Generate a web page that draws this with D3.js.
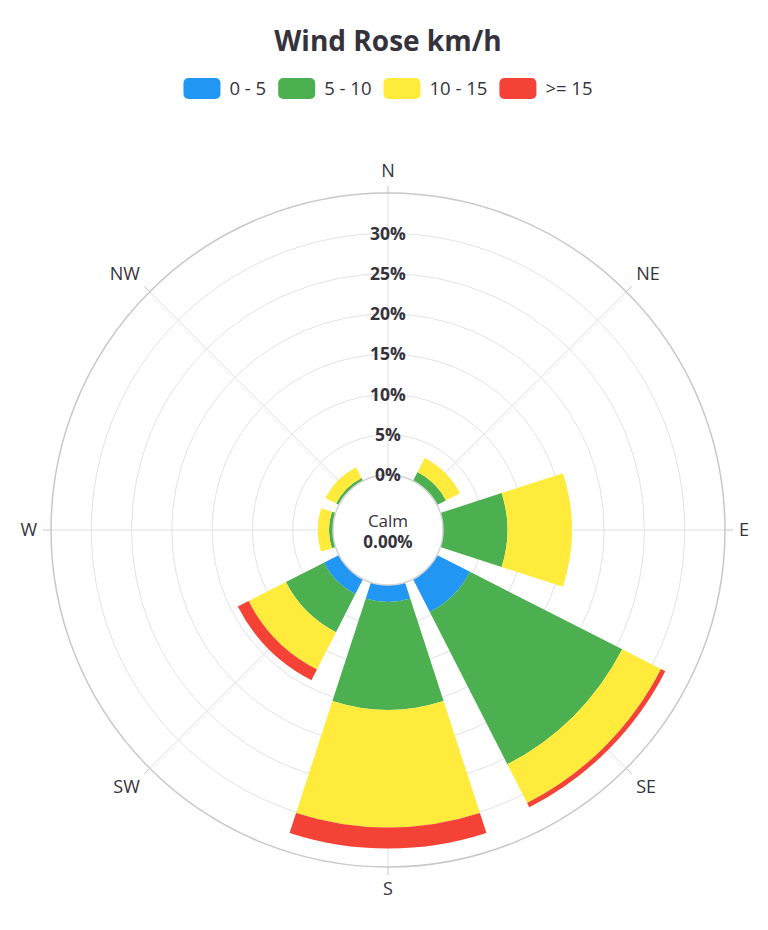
<!DOCTYPE html>
<html>
<head>
<meta charset="utf-8">
<script src="https://cdn.jsdelivr.net/npm/d3@7"></script>
<style>
  html, body { margin: 0; padding: 0; background: #fff; }
  svg { display: block; font-family: "Open Sans", "Noto Sans", sans-serif; }
</style>
</head>
<body>
<svg id="chart" width="768" height="930"></svg>
<script>
// directions around the rose
var directions = ["N", "NE", "E", "SE", "S", "SW", "W", "NW"];

// percent of time per speed band
var speed0to5   = [0, 0,    0,   4.6,  2.1,  2.1, 0,   0];
var speed5to10  = [0, 1.25, 8.0, 21.2, 13.4, 5.3, 0.5, 0.4];
var speed10to15 = [0, 1.95, 8.0, 5.4,  14.6, 5.2, 1.4, 1.5];
var speed15plus = [0, 0,    0,   0.6,  2.6,  1.5, 0,   0];

var seriesNames = ["0 - 5", "5 - 10", "10 - 15", ">= 15"];
var seriesColors = ["#2196F3", "#4CAF50", "#FFEB3B", "#F44336"];
var radialTicks = [0, 5, 10, 15, 20, 25, 30];
var calmValue = "0.00%";

var svg = d3.select("#chart");
var cx = 388, cy = 530;
var innerR = 55, outerR = 337;
var textColor = "#35323c";

// build rows for d3.stack
var rows = directions.map(function(d, i) {
    return { dir: d, s0: speed0to5[i], s1: speed5to10[i], s2: speed10to15[i], s3: speed15plus[i] };
});
var keys = ["s0", "s1", "s2", "s3"];
var stacked = d3.stack().keys(keys)(rows);

var angle = d3.scaleBand()
    .domain(directions)
    .range([-Math.PI / 8, 2 * Math.PI - Math.PI / 8])
    .paddingInner(0.2)
    .paddingOuter(0.1);

var r = d3.scaleLinear()
    .domain([0, 35])
    .range([innerR, outerR]);

function mid(d) { return angle(d) + angle.bandwidth() / 2; }

var g = svg.append("g").attr("transform", "translate(" + cx + "," + cy + ")");

// grid circles
g.append("g")
    .selectAll("circle")
    .data(radialTicks.slice(1))
    .join("circle")
    .attr("r", function(d) { return r(d); })
    .attr("fill", "none")
    .attr("stroke", "#e3e3e3")
    .attr("stroke-width", 1);

// split lines for each direction
g.append("g")
    .selectAll("line")
    .data(directions)
    .join("line")
    .attr("x1", function(d) { return Math.sin(mid(d)) * innerR; })
    .attr("y1", function(d) { return -Math.cos(mid(d)) * innerR; })
    .attr("x2", function(d) { return Math.sin(mid(d)) * outerR; })
    .attr("y2", function(d) { return -Math.cos(mid(d)) * outerR; })
    .attr("stroke", "#e0e0e0");

// outer circle
g.append("circle")
    .attr("r", outerR)
    .attr("fill", "none")
    .attr("stroke", "#c8c8c8")
    .attr("stroke-width", 1.5);

// ticks outside outer circle
g.append("g")
    .selectAll("line")
    .data(directions)
    .join("line")
    .attr("x1", function(d) { return Math.sin(mid(d)) * outerR; })
    .attr("y1", function(d) { return -Math.cos(mid(d)) * outerR; })
    .attr("x2", function(d) { return Math.sin(mid(d)) * (outerR + 8); })
    .attr("y2", function(d) { return -Math.cos(mid(d)) * (outerR + 8); })
    .attr("stroke", "#c8c8c8");

// stacked bars
var arc = d3.arc()
    .innerRadius(function(d) { return r(d[0]); })
    .outerRadius(function(d) { return r(d[1]); })
    .startAngle(function(d) { return angle(d.data.dir); })
    .endAngle(function(d) { return angle(d.data.dir) + angle.bandwidth(); });

g.append("g")
    .selectAll("g")
    .data(stacked)
    .join("g")
    .attr("fill", function(d, i) { return seriesColors[i]; })
    .selectAll("path")
    .data(function(d) { return d.filter(function(p) { return p[1] > p[0]; }); })
    .join("path")
    .attr("d", arc);

// calm circle in the middle
g.append("circle")
    .attr("r", innerR)
    .attr("fill", "#fff")
    .attr("stroke", "#d4d4d4")
    .attr("stroke-width", 1.5);

g.append("text")
    .attr("y", -3)
    .attr("text-anchor", "middle")
    .style("font-size", "17px")
    .attr("fill", textColor)
    .text("Calm");

g.append("text")
    .attr("y", 18)
    .attr("text-anchor", "middle")
    .style("font-size", "17px")
    .style("font-weight", "bold")
    .attr("fill", textColor)
    .text(calmValue);

// radial tick labels
g.append("g")
    .selectAll("text")
    .data(radialTicks)
    .join("text")
    .attr("x", 0)
    .attr("y", function(d) { return -r(d); })
    .attr("dy", "0.36em")
    .attr("text-anchor", "middle")
    .style("font-size", "17.5px")
    .style("font-weight", "bold")
    .attr("fill", textColor)
    .text(function(d) { return d + "%"; });

// direction labels
var labelR = 351;
g.append("g")
    .selectAll("text")
    .data(directions)
    .join("text")
    .attr("x", function(d) { return Math.sin(mid(d)) * labelR; })
    .attr("y", function(d) { return -Math.cos(mid(d)) * labelR; })
    .attr("text-anchor", function(d) {
        var s = Math.sin(mid(d));
        return Math.abs(s) < 0.01 ? "middle" : (s > 0 ? "start" : "end");
    })
    .attr("dy", function(d) {
        var c = Math.cos(mid(d));
        return Math.abs(c) < 0.01 ? "0.35em" : (c > 0 ? "-0.1em" : "0.8em");
    })
    .style("font-size", "18px")
    .attr("fill", textColor)
    .text(function(d) { return d; });

// title
svg.append("text")
    .attr("x", 388)
    .attr("y", 51)
    .attr("text-anchor", "middle")
    .style("font-size", "28px")
    .style("font-weight", "bold")
    .attr("fill", textColor)
    .text("Wind Rose km/h");

// legend
var legend = svg.append("g");
var lx = 0;
seriesNames.forEach(function(name, i) {
    var item = legend.append("g").attr("transform", "translate(" + lx + ",0)");
    item.append("rect")
        .attr("width", 37)
        .attr("height", 21)
        .attr("rx", 5)
        .attr("fill", seriesColors[i]);
    var t = item.append("text")
        .attr("x", 46)
        .attr("y", 17)
        .style("font-size", "18.5px")
        .attr("fill", textColor)
        .text(name);
    lx += 46 + t.node().getComputedTextLength() + 12;
});
var legendW = lx - 12;
legend.attr("transform", "translate(" + (388 - legendW / 2) + ",78)");
</script>
</body>
</html>
